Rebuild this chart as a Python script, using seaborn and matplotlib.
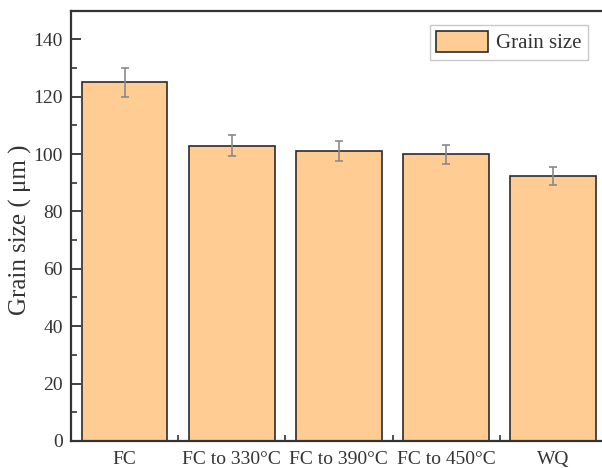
import matplotlib
matplotlib.use("Agg")
import matplotlib.pyplot as plt
from matplotlib.ticker import MultipleLocator
import seaborn as sns
import pandas as pd

categories = ["FC", "FC to 330°C", "FC to 390°C", "FC to 450°C", "WQ"]
grain_size = [125.0, 103.0, 101.0, 100.0, 92.3]
grain_err = [5.0, 3.5, 3.5, 3.3, 3.2]

sns.set_theme(style="ticks")
plt.rcParams["font.family"] = ["Liberation Serif", "DejaVu Serif"]

df = pd.DataFrame({"condition": categories, "size": grain_size})

fig = plt.figure(figsize=(6.02, 4.68), dpi=100)
ax = fig.add_axes([0.118, 0.058, 0.89, 0.919])

sns.barplot(data=df, x="condition", y="size", ax=ax, color="#FFCC94",
            saturation=1, width=0.8, edgecolor="#2b2b2b", linewidth=1.2,
            label="Grain size", errorbar=None)
ax.errorbar(range(len(categories)), grain_size, yerr=grain_err, fmt="none",
            ecolor="#8a8a8a", elinewidth=1.2, capsize=3, capthick=1.2)

ax.set_xlim(-0.5, len(categories) - 0.5)
ax.set_ylim(0, 150)
ax.yaxis.set_major_locator(MultipleLocator(20))
ax.yaxis.set_minor_locator(MultipleLocator(10))
ax.set_xticks(range(len(categories)))
ax.set_xticks([i + 0.5 for i in range(len(categories) - 1)], minor=True)
ax.tick_params(axis="both", which="major", direction="in", length=7, width=1.3,
               labelsize=14, colors="#333333", labelcolor="#333333", pad=6)
ax.tick_params(axis="both", which="minor", direction="in", length=4, width=1.2,
               colors="#333333")
ax.tick_params(axis="x", which="major", labelsize=14, pad=7)

ax.set_xlabel("")
ax.set_ylabel("Grain size ( μm )", fontsize=18, color="#333333")
ax.yaxis.set_label_coords(-0.073, 0.49)

for side in ["left", "bottom", "top", "right"]:
    ax.spines[side].set_linewidth(1.6)
    ax.spines[side].set_color("#333333")

leg = ax.legend(loc="upper right", bbox_to_anchor=(0.965, 0.968), fontsize=15,
                frameon=True, fancybox=False, edgecolor="#bbbbbb",
                handlelength=2.5, handleheight=1.2, borderpad=0.3,
                handletextpad=0.4, borderaxespad=0)
leg.get_frame().set_linewidth(1.0)
for t in leg.get_texts():
    t.set_color("#333333")

fig.savefig("out.png", dpi=100)
